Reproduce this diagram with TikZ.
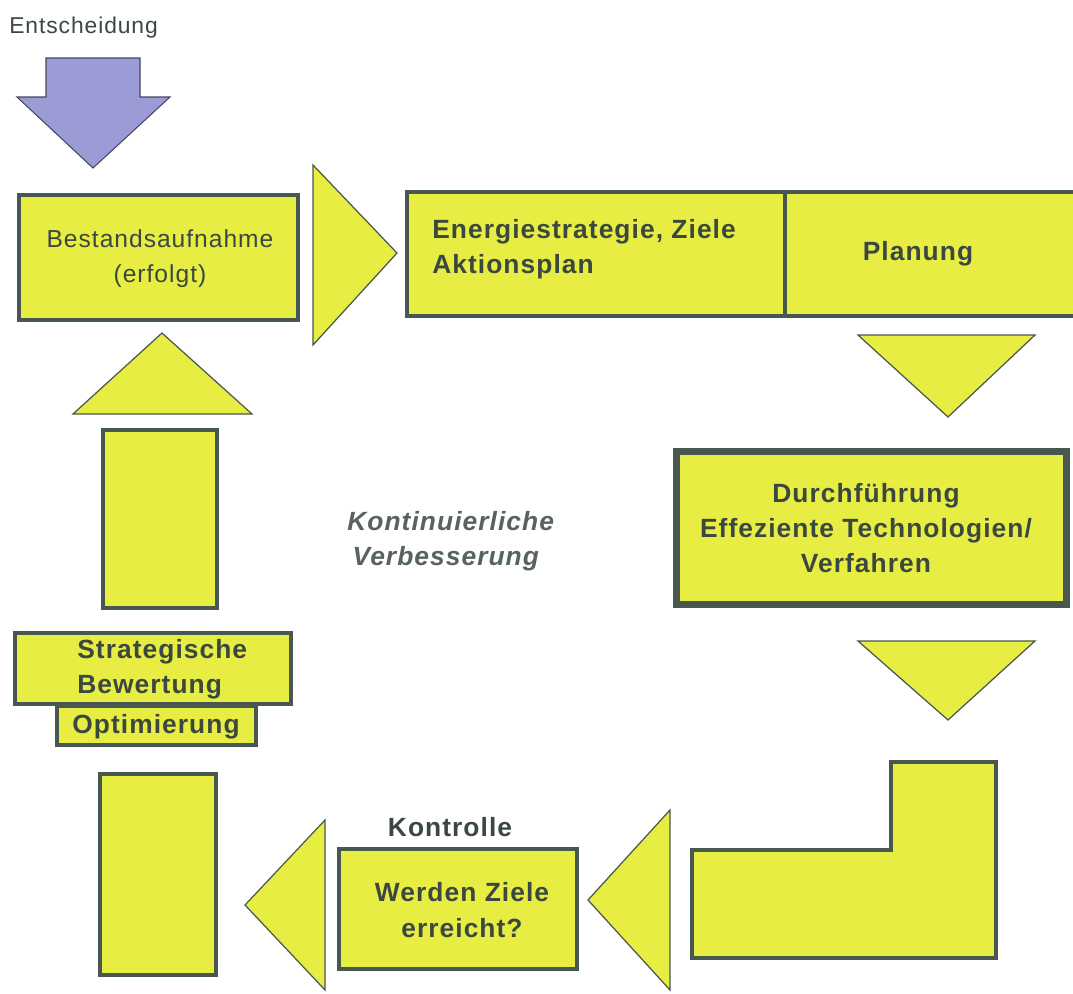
\documentclass[tikz,border=0pt]{standalone}
\usepackage{fontspec}
\setmainfont{Liberation Sans}[LetterSpace=4]
\usepackage{xcolor}
\usepackage{tikz}

\definecolor{boxyellow}{RGB}{231,237,66}
\definecolor{boxline}{RGB}{72,88,80}
\definecolor{textgray}{RGB}{58,72,64}
\definecolor{arrowblue}{RGB}{155,155,214}

\tikzset{
    box/.style={fill=boxyellow, draw=boxline, line width=2.3pt},
    tri/.style={fill=boxyellow, draw=boxline, line width=0.7pt, line join=miter},
    boxtext/.style={text=textgray, inner sep=0pt, align=center,
        font=\fontsize{15}{20}\selectfont\bfseries},
}

\begin{document}
\begin{tikzpicture}[x=0.2mm, y=-0.2mm]
        \useasboundingbox (0,0) rectangle (1073,994);

        % Entscheidung arrow
        \filldraw [fill = arrowblue, draw = arrowblue!45!black, line width = 0.6pt]
            (46,58) -- (140,58) -- (140,97) -- (170,97) -- (93,168)
            -- (17,97) -- (46,97) -- cycle;
        \node [anchor=west, text=textgray, inner sep=0pt,
            font=\fontsize{13}{15}\selectfont] (entsch) at (9,28) {Entscheidung};

        % top row
        \filldraw [box] (19,195) rectangle (298,320);
        \filldraw [tri] (313,165) -- (397,253) -- (313,345) -- cycle;
        \filldraw [box] (407,192) rectangle (785,316);
        \filldraw [box] (785,192) rectangle (1076,316);

        \node [boxtext, font=\fontsize{14}{20}\selectfont] (bestand) at (160,259)
            {Bestandsaufnahme\\(erfolgt)};
        \node [boxtext, anchor=west, align=left] (energie) at (432,249)
            {Energiestrategie, Ziele\\Aktionsplan};
        \node [boxtext] (planung) at (918,254) {Planung};

        % right column
        \filldraw [tri] (858,335) -- (1035,335) -- (948,417) -- cycle;
        \filldraw [box, line width=4pt] (676.5,451.5) rectangle (1066.5,604.5);
        \node [boxtext] (durch) at (866,528)
            {Durchführung\\Effeziente Technologien/\\Verfahren};
        \filldraw [tri] (858,641) -- (1035,641) -- (948,720) -- cycle;

        % bottom row
        \filldraw [box] (692,850) -- (891,850) -- (891,762) -- (996,762)
            -- (996,958) -- (692,958) -- cycle;
        \filldraw [tri] (670,810) -- (588,900) -- (670,990) -- cycle;
        \filldraw [box] (339,849) rectangle (577,969);
        \node [boxtext] (kontrolle) at (450,827) {Kontrolle};
        \node [boxtext] (werden) at (462,910) {Werden Ziele\\erreicht?};
        \filldraw [tri] (325,820) -- (245,905) -- (325,990) -- cycle;

        % left column
        \filldraw [box] (100,774) rectangle (216,975);
        \filldraw [box] (57,706) rectangle (256,745);
        \filldraw [box] (15,633) rectangle (291,704);
        \node [boxtext, anchor=west, align=left] (strat) at (77,669)
            {Strategische\\Bewertung};
        \node [boxtext] (optim) at (156,727) {Optimierung};
        \filldraw [box] (103,430) rectangle (217,608);
        \filldraw [tri] (73,414) -- (162,333) -- (252,414) -- cycle;

        % centre
        \node [boxtext, anchor=west, align=left, text=textgray!85!white,
            font=\fontsize{15}{20}\selectfont\bfseries\itshape] (kvp) at (347,541)
            {Kontinuierliche\\\hspace*{3pt}Verbesserung};
    \end{tikzpicture}
\end{document}
